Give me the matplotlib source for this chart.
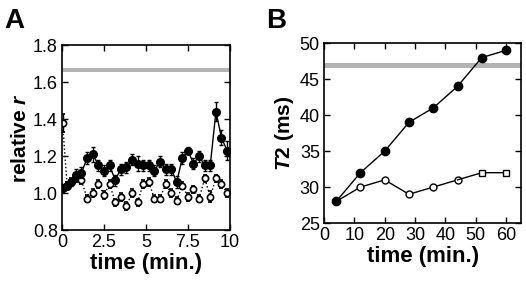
import numpy as np
from matplotlib import pyplot as plt

# panel A: relative r vs time
tA = [0.03, 0.3, 0.55, 0.85, 1.15, 1.5, 1.83, 2.17, 2.5, 2.83, 3.17, 3.5, 3.83,
      4.17, 4.5, 4.83, 5.17, 5.5, 5.83, 6.17, 6.5, 6.83, 7.17, 7.5, 7.83,
      8.17, 8.5, 8.83, 9.17, 9.5, 9.83]
filledA = [1.03, 1.04, 1.06, 1.10, 1.11, 1.19, 1.21, 1.15, 1.12, 1.15, 1.07, 1.13,
           1.14, 1.18, 1.16, 1.15, 1.15, 1.12, 1.17, 1.13, 1.13, 1.06, 1.19, 1.23,
           1.16, 1.20, 1.15, 1.15, 1.44, 1.30, 1.23]
filledErrA = [0.02, 0.02, 0.02, 0.03, 0.03, 0.03, 0.04, 0.03, 0.03, 0.03, 0.03, 0.03,
              0.03, 0.03, 0.04, 0.03, 0.03, 0.03, 0.03, 0.03, 0.03, 0.03, 0.03, 0.02,
              0.03, 0.03, 0.03, 0.03, 0.05, 0.04, 0.05]
openA = [1.38, 1.04, 1.06, 1.08, 1.07, 0.97, 1.00, 1.05, 0.99, 1.05, 0.95, 0.98,
         0.93, 1.00, 0.95, 1.05, 1.06, 0.97, 0.97, 1.05, 1.00, 0.96, 1.04, 0.98,
         1.02, 0.97, 1.08, 0.98, 1.08, 1.05, 1.00]
openErrA = [0.05, 0.02, 0.02, 0.02, 0.02, 0.02, 0.02, 0.02, 0.02, 0.02, 0.02, 0.02,
            0.02, 0.02, 0.02, 0.02, 0.02, 0.02, 0.02, 0.02, 0.02, 0.02, 0.02, 0.02,
            0.02, 0.02, 0.02, 0.03, 0.02, 0.02, 0.02]
bandA = 1.667

# panel B: T2 vs time
tB = [4, 12, 20, 28, 36, 44, 52, 60]
filledB = [28, 32, 35, 39, 41, 44, 48, 49]
openB = [28, 30, 31, 29, 30, 31, 32, 32]
bandB = 46.9

plt.rcParams['font.family'] = ['Liberation Sans', 'DejaVu Sans']
plt.rcParams['mathtext.fontset'] = 'custom'
plt.rcParams['mathtext.rm'] = 'Liberation Sans:bold'
plt.rcParams['mathtext.it'] = 'Liberation Sans:italic:bold'

fig = plt.figure(figsize=(5.26, 2.82), dpi=100)

axA = fig.add_axes([0.118, 0.184, 0.319, 0.656])
axA.axhspan(bandA - 0.012, bandA + 0.012, color='#b4b4b4', lw=0, zorder=1)
axA.errorbar(tA, openA, yerr=openErrA, fmt='o', ls=':', color='black', mfc='white',
             mec='black', ms=4.5, mew=1.2, lw=1, elinewidth=1, capsize=1.5, zorder=2)
axA.errorbar(tA, filledA, yerr=filledErrA, fmt='o', ls='-', color='black', mfc='black',
             ms=5.5, lw=1, elinewidth=1, capsize=1.5, zorder=3)
axA.set_xlim(0, 10)
axA.set_ylim(0.8, 1.8)
axA.set_xticks([0, 2.5, 5, 7.5, 10])
axA.set_xticklabels(['0', '2.5', '5', '7.5', '10'])
axA.set_yticks([0.8, 1.0, 1.2, 1.4, 1.6, 1.8])
axA.set_xlabel('time (min.)', fontsize=16, fontweight='bold', labelpad=1)
axA.set_ylabel('relative $\\mathit{r}$', fontsize=15, fontweight='bold', labelpad=2)

axB = fig.add_axes([0.616, 0.209, 0.375, 0.638])
axB.axhspan(bandB - 0.35, bandB + 0.35, color='#b4b4b4', lw=0, zorder=1)
axB.plot(tB[:6], openB[:6], 'o-', color='black', mfc='white', mec='black', ms=5,
         mew=1, lw=1, zorder=2)
axB.plot(tB[5:], openB[5:], '-', color='black', lw=1, zorder=2)
axB.plot(tB[6:], openB[6:], 's', color='black', mfc='white', mec='black', ms=5,
         mew=1, zorder=2)
axB.plot(tB, filledB, 'o-', color='black', mfc='black', ms=6, lw=1, zorder=3)
axB.set_xlim(0, 65)
axB.set_ylim(25, 50)
axB.set_xticks([0, 10, 20, 30, 40, 50, 60])
axB.set_yticks([25, 30, 35, 40, 45, 50])
axB.set_xlabel('time (min.)', fontsize=16, fontweight='bold', labelpad=1)
axB.set_ylabel('$\\mathit{T2}$ (ms)', fontsize=15, fontweight='bold', labelpad=3)

for ax in (axA, axB):
    ax.tick_params(direction='in', top=True, right=True, length=4, width=1,
                   labelsize=13, pad=3)
    for s in ax.spines.values():
        s.set_linewidth(1.2)

fig.text(0.008, 0.97, 'A', fontsize=20, fontweight='bold', va='top')
fig.text(0.505, 0.97, 'B', fontsize=20, fontweight='bold', va='top')

fig.savefig('out.png', dpi=100)
